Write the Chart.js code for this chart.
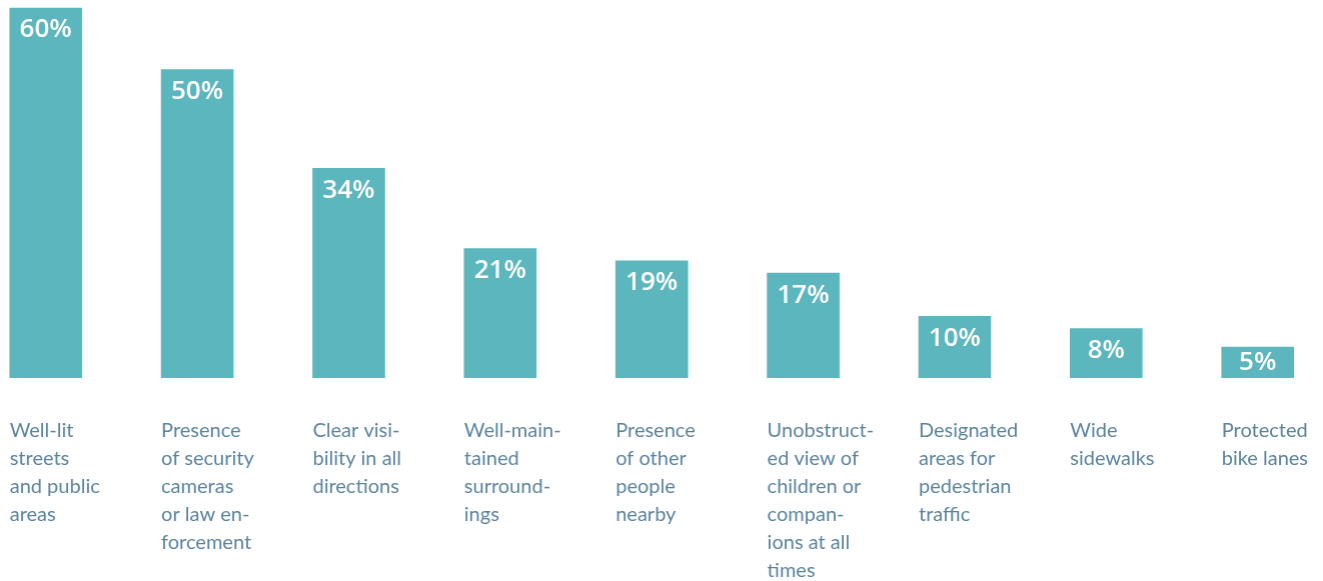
<!DOCTYPE html>
<html>
<head>
<meta charset="utf-8">
<script src="https://cdn.jsdelivr.net/npm/chart.js@4.4.1/dist/chart.umd.min.js"></script>
<style>
    html, body { margin: 0; padding: 0; background: #ffffff; overflow: hidden; }
    body { width: 1323px; height: 581px; position: relative; }
    #wrap { position: absolute; left: -29.7px; top: 0; width: 1362.4px; height: 581px; }
</style>
</head>
<body>
<div id="wrap"><canvas id="safetyChart"></canvas></div>
<script>
// Categories, split into the lines they are printed on
const categories = [
    ["Well-lit", "streets", "and public", "areas"],
    ["Presence", "of security", "cameras", "or law en-", "forcement"],
    ["Clear visi-", "bility in all", "directions"],
    ["Well-main-", "tained", "surround-", "ings"],
    ["Presence", "of other", "people", "nearby"],
    ["Unobstruct-", "ed view of", "children or", "compan-", "ions at all", "times"],
    ["Designated", "areas for", "pedestrian", "traffic"],
    ["Wide", "sidewalks"],
    ["Protected", "bike lanes"]
];
const shares = [60, 50, 34, 21, 19, 17, 10, 8, 5];

const BAR_COLOR = "#5bb6be";
const LABEL_COLOR = "#5a849e";

// ---------------------------------------------------------
// Percent values inside the top of each bar
// (short bars get their label centred instead)
// ---------------------------------------------------------
const valueLabels = {
    id: "valueLabels",
    afterDatasetsDraw(chart) {
        const ctx = chart.ctx;
        const bars = chart.getDatasetMeta(0).data;
        ctx.save();
        ctx.fillStyle = "#ffffff";
        ctx.font = "600 26px 'Open Sans', sans-serif";
        ctx.textAlign = "center";
        ctx.textBaseline = "middle";
        bars.forEach((bar, i) => {
            const h = bar.base - bar.y;
            ctx.fillText(shares[i] + "%", bar.x, bar.y + Math.min(22, h / 2));
        });
        ctx.restore();
    }
};

// ---------------------------------------------------------
// Category text, left aligned under each bar
// ---------------------------------------------------------
const categoryLabels = {
    id: "categoryLabels",
    afterDraw(chart) {
        const ctx = chart.ctx;
        const bars = chart.getDatasetMeta(0).data;
        const top = chart.chartArea.bottom + 53;
        ctx.save();
        ctx.fillStyle = LABEL_COLOR;
        ctx.font = "20px Lato, sans-serif";
        ctx.textAlign = "left";
        ctx.textBaseline = "middle";
        bars.forEach((bar, i) => {
            const left = bar.x - bar.width / 2;
            categories[i].forEach((line, j) => {
                ctx.fillText(line, left, top + j * 28);
            });
        });
        ctx.restore();
    }
};

new Chart(document.getElementById("safetyChart"), {
    type: "bar",
    data: {
        labels: categories,
        datasets: [{
            data: shares,
            backgroundColor: BAR_COLOR,
            borderWidth: 0,
            barThickness: 72
        }]
    },
    options: {
        responsive: true,
        maintainAspectRatio: false,
        animation: false,
        layout: { padding: { top: 0, bottom: 203, left: 0, right: 0 } },
        plugins: {
            legend: { display: false },
            tooltip: { enabled: false }
        },
        scales: {
            x: { display: false },
            y: { display: false, min: 0, max: 61.3 }
        }
    },
    plugins: [valueLabels, categoryLabels]
});
</script>
</body>
</html>
